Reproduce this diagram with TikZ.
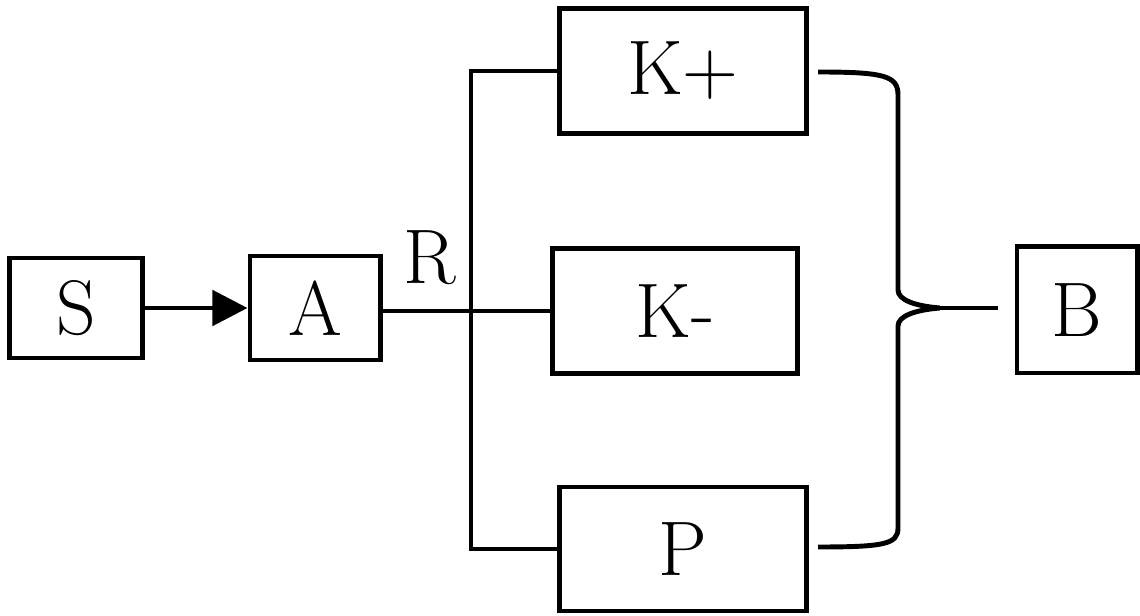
\documentclass[tikz,border=0pt]{standalone}
\usetikzlibrary{arrows.meta,calc}
\begin{document}
\begin{tikzpicture}[x=0.01cm,y=-0.01cm,
  txt/.style={inner sep=0pt,font=\rmfamily\fontsize{22}{24}\selectfont},
  box/.style={txt,draw,line width=1.4pt},
  conn/.style={line width=1.4pt},
  arr/.style={conn,-{Triangle[length=10pt,width=10pt]}}]
\useasboundingbox (0,0) rectangle (1140,616);
\node[box,minimum width=1.32cm,minimum height=1.00cm] (S) at (76,308) {S};
\node[box,minimum width=1.30cm,minimum height=1.04cm] (A) at (315,308) {A};
\node[box,minimum width=2.46cm,minimum height=1.25cm] (Kp) at (683,71) {K+};
\node[box,minimum width=2.44cm,minimum height=1.25cm] (Km) at (675,311) {K-};
\node[box,minimum width=2.46cm,minimum height=1.24cm] (P) at (683,549) {P};
\node[box,minimum width=1.20cm,minimum height=1.26cm] (B) at (1077,310) {B};
\node[txt] (R) at (430,258) {R};
\coordinate (J) at (471,311);
\draw[arr] (S) -- (A);
\draw[conn] (A.east |- J) -- (J) -- (Km.west |- J);
\draw[conn] (Kp.west) -| (J) |- (P.west);
% brace
\coordinate (bt) at (818,72);
\coordinate (bb) at (818,547);
\coordinate (tip) at (940,308);
\draw[conn] (bt) .. controls (885,72) and (898,76) .. (898,95)
  -- (898,290) .. controls (898,300) and (915,306) .. (tip)
  .. controls (915,310) and (898,316) .. (898,326)
  -- (898,528) .. controls (898,544) and (885,547) .. (bb);
\draw[conn,shorten >=0.17cm] (tip) -- (B.west |- tip);
\end{tikzpicture}
\end{document}
